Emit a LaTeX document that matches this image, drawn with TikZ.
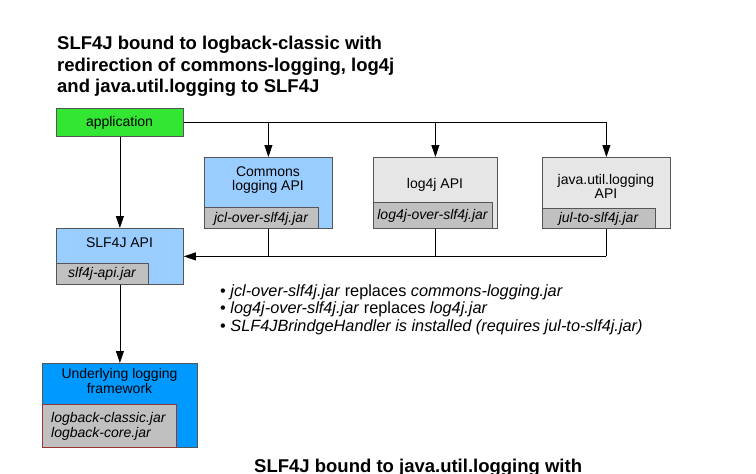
\documentclass[tikz,border=0pt]{standalone}
\usepackage{fontspec}
\setmainfont{Liberation Sans}
\usetikzlibrary{arrows.meta}
\definecolor{appgreen}{HTML}{33E633}
\definecolor{lblue}{HTML}{99CCFF}
\definecolor{dblue}{HTML}{0099FF}
\definecolor{lgrey}{HTML}{E6E6E6}
\definecolor{jgrey}{HTML}{C0C0C0}
\definecolor{bordergrey}{HTML}{555555}
\definecolor{jarred}{HTML}{993333}
\begin{document}
\begin{tikzpicture}[x=1pt,y=-1pt,
  box/.style={draw=bordergrey,line width=0.8pt,rectangle,inner sep=0pt,anchor=north west},
  jar/.style={draw=bordergrey,line width=0.8pt,fill=jgrey,rectangle,inner sep=0pt,anchor=south west},
  btxt/.style={anchor=base,inner sep=0pt,font=\fontsize{14}{16}\selectfont},
  jtxt/.style={anchor=base,inner sep=0pt,font=\fontsize{14}{16}\selectfont\itshape},
  ttl/.style={anchor=base west,inner sep=0pt,font=\fontsize{18.5}{22}\selectfont\bfseries},
  bul/.style={anchor=base west,inner sep=0pt,font=\fontsize{16.3}{18}\selectfont},
  conn/.style={line width=0.8pt,black},
  arr/.style={conn,-{Triangle[length=12pt,width=8pt]}}]
\useasboundingbox (0,0) rectangle (756,474);
% title
\node[ttl] (t1) at (57,49) {SLF4J bound to logback-classic with};
\node[ttl] (t2) at (57,71) {redirection of commons-logging, log4j};
\node[ttl] (t3) at (57,92) {and java.util.logging to SLF4J};
% application
\node[box,fill=appgreen,minimum width=127pt,minimum height=28pt] (app) at (56,108) {};
\node[btxt] (appt) at (119.5,126) {application};
% commons
\node[box,fill=lblue,minimum width=128pt,minimum height=71pt] (jcl) at (204,157) {};
\node[btxt] (jclt1) at (268,176) {Commons};
\node[btxt] (jclt2) at (268,190) {logging API};
\node[jar,minimum width=114pt,minimum height=21pt] (jcljar) at (jcl.south west) {};
\node[jtxt] (jcljt) at (261,222) {jcl-over-slf4j.jar};
% log4j
\node[box,fill=lgrey,minimum width=124pt,minimum height=71pt] (l4j) at (373,157) {};
\node[btxt] (l4jt) at (435,188) {log4j API};
\node[jar,minimum width=119pt,minimum height=26pt] (l4jjar) at (l4j.south west) {};
\node[jtxt] (l4jjt) at (432.5,219) {log4j-over-slf4j.jar};
% jul
\node[box,fill=lgrey,minimum width=128pt,minimum height=71pt] (jul) at (542,157) {};
\node[btxt] (jult1) at (606,184) {java.util.logging};
\node[btxt] (jult2) at (606,198) {API};
\node[jar,minimum width=113pt,minimum height=20pt] (juljar) at (jul.south west) {};
\node[jtxt] (juljt) at (598.5,222) {jul-to-slf4j.jar};
% slf4j
\node[box,fill=lblue,minimum width=127pt,minimum height=56pt] (slf) at (56,228) {};
\node[btxt] (slft) at (119.5,247) {SLF4J API};
\node[jar,minimum width=92pt,minimum height=21pt] (slfjar) at (slf.south west) {};
\node[jtxt] (slfjt) at (102,277) {slf4j-api.jar};
% underlying
\node[box,fill=dblue,minimum width=155pt,minimum height=84pt] (und) at (42,363) {};
\node[btxt] (undt1) at (119.5,378) {Underlying logging};
\node[btxt] (undt2) at (119.5,393) {framework};
\node[jar,draw=jarred,minimum width=134pt,minimum height=43pt] (lbjar) at (und.south west) {};
\node[jtxt,anchor=base west] (lbt1) at (51,422) {logback-classic.jar};
\node[jtxt,anchor=base west] (lbt2) at (51,437) {logback-core.jar};
% connectors
\coordinate (jtop) at (jul.north |- app.east);
\draw[conn] (app.east) -- (jtop);
\draw[arr] (jtop) -- (jul.north);
\draw[arr] (jcl.north |- app.east) -- (jcl.north);
\draw[arr] (l4j.north |- app.east) -- (l4j.north);
\draw[arr] (app.south) -- (slf.north);
\coordinate (jbot) at (jul.south |- slf.east);
\draw[conn] (jul.south) -- (jbot);
\draw[arr] (jbot) -- (slf.east);
\draw[conn] (jcl.south) -- (jcl.south |- slf.east);
\draw[conn] (l4j.south) -- (l4j.south |- slf.east);
\draw[arr] (slf.south) -- (und.north);
% bullets
\node[bul] (b1) at (220,296) {\textbullet\ \textit{jcl-over-slf4j.jar} replaces \textit{commons-logging.jar}};
\node[bul] (b2) at (220,313) {\textbullet\ \textit{log4j-over-slf4j.jar} replaces \textit{log4j.jar}};
\node[bul] (b3) at (220,331) {\textbullet\ \textit{SLF4JBrindgeHandler is installed (requires jul-to-slf4j.jar)}};
% bottom title (clipped)
\node[ttl] (t4) at (254,472) {SLF4J bound to java.util.logging with};
\end{tikzpicture}
\end{document}
